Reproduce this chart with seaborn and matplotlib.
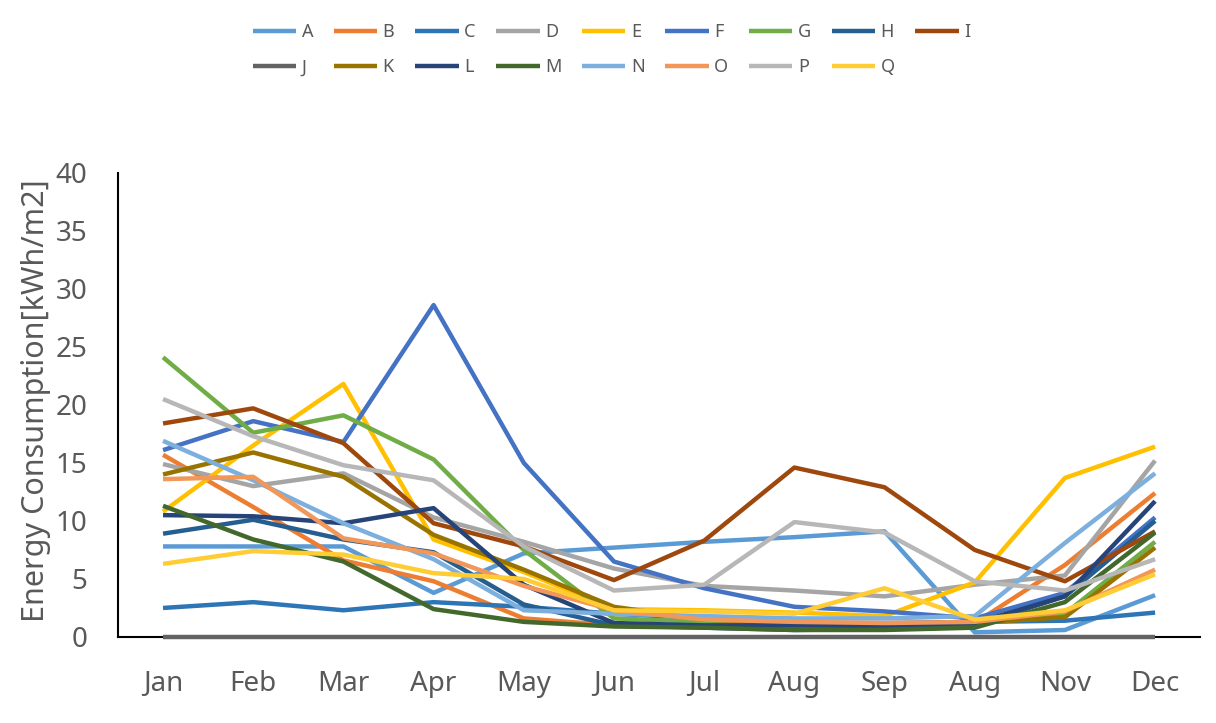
import matplotlib
matplotlib.use("Agg")
import matplotlib.pyplot as plt
import pandas as pd
import seaborn as sns

# Data
months = ['Jan', 'Feb', 'Mar', 'Apr', 'May', 'Jun', 'Jul', 'Aug', 'Sep', 'Aug', 'Nov', 'Dec']
series_names = list('ABCDEFGHIJKLMNOPQ')

A = [7.8, 7.8, 7.8, 3.8, 7.2, 7.7, 8.2, 8.6, 9.1, 0.4, 0.6, 3.6]
B = [15.7, 11.2, 6.6, 4.8, 1.6, 1.0, 1.0, 0.8, 0.9, 1.2, 6.2, 12.4]
C = [2.5, 3.0, 2.3, 3.0, 2.6, 2.0, 1.6, 1.2, 1.2, 1.3, 1.4, 2.1]
D = [14.9, 13.0, 14.1, 10.3, 8.2, 5.9, 4.4, 4.0, 3.5, 4.5, 5.3, 15.2]
E = [10.8, 16.5, 21.8, 8.4, 5.6, 2.4, 2.3, 2.1, 1.8, 4.7, 13.7, 16.4]
F = [16.1, 18.6, 16.8, 28.6, 15.0, 6.5, 4.2, 2.6, 2.2, 1.6, 3.8, 10.3]
G = [24.1, 17.6, 19.1, 15.3, 7.5, 1.6, 1.3, 1.0, 1.0, 1.2, 2.0, 8.2]
H = [8.9, 10.1, 8.4, 7.3, 2.8, 1.0, 0.8, 0.6, 0.7, 1.0, 3.5, 10.0]
I = [18.4, 19.7, 16.7, 9.8, 7.8, 4.9, 8.3, 14.6, 12.9, 7.5, 4.8, 9.1]
J = [0, 0, 0, 0, 0, 0, 0, 0, 0, 0, 0, 0]
K = [14.0, 15.9, 13.8, 8.8, 5.8, 2.6, 1.5, 1.2, 1.1, 1.2, 1.7, 7.7]
L = [10.5, 10.4, 9.8, 11.1, 4.5, 1.2, 1.0, 1.0, 1.0, 1.2, 3.5, 11.7]
M = [11.3, 8.4, 6.5, 2.4, 1.3, 0.9, 0.8, 0.6, 0.6, 0.8, 3.0, 9.0]
N = [16.9, 13.5, 9.8, 6.7, 2.3, 2.0, 1.8, 1.6, 1.6, 1.8, 8.1, 14.1]
O = [13.6, 13.8, 8.5, 7.2, 4.4, 2.3, 1.5, 1.3, 1.2, 1.3, 2.2, 5.8]
P = [20.5, 17.3, 14.8, 13.5, 7.8, 4.0, 4.5, 9.9, 9.0, 4.8, 4.0, 6.7]
Q = [6.3, 7.4, 7.1, 5.5, 5.0, 2.3, 2.2, 2.0, 4.2, 1.5, 2.3, 5.4]

colors = ['#5B9BD5', '#ED7D31', '#2E75B6', '#A5A5A5', '#FFC000', '#4472C4',
          '#70AD47', '#255E91', '#9E480E', '#636363', '#997300', '#264478',
          '#43682B', '#7CAFDD', '#F1975A', '#B7B7B7', '#FFCD33']

values = [A, B, C, D, E, F, G, H, I, J, K, L, M, N, O, P, Q]
rows = []
for name, vals in zip(series_names, values):
    for i, v in enumerate(vals):
        rows.append({'series': name, 'month': i, 'value': v})
df = pd.DataFrame(rows)

sns.set_style('white')
plt.rcParams['font.family'] = ['Noto Sans', 'DejaVu Sans']

fig = plt.figure(figsize=(12.16, 7.23), dpi=100)
ax = fig.add_axes([0.097, 0.119, 0.89, 0.642])

sns.lineplot(data=df, x='month', y='value', hue='series', hue_order=series_names,
             palette=colors, linewidth=3.2, ax=ax)
for line in ax.lines:
    line.set_clip_on(False)
    line.set_zorder(3)
    line.set_solid_capstyle('butt')

ax.set_xlim(-0.5, 11.5)
ax.set_ylim(0, 40)
ax.set_yticks(range(0, 41, 5))
ax.set_xticks(range(12))
ax.set_xticklabels(months)
ax.set_xlabel('')
ax.set_ylabel('Energy Consumption[kWh/m2]', fontsize=22, color='#595959')
ax.yaxis.set_label_coords(-0.062, 0.51)
ax.tick_params(axis='x', length=0, pad=24, labelsize=20, labelcolor='#595959')
ax.tick_params(axis='y', length=0, pad=22, labelsize=20, labelcolor='#595959')

for s in ['top', 'right']:
    ax.spines[s].set_visible(False)
for s in ['left', 'bottom']:
    ax.spines[s].set_color('black')
    ax.spines[s].set_linewidth(1.5)

# legend in row-major order: 9 columns, 2 rows
handles, labels = ax.get_legend_handles_labels()
ax.get_legend().remove()
lookup = dict(zip(labels, handles))
order = ['A', 'J', 'B', 'K', 'C', 'L', 'D', 'M', 'E', 'N', 'F', 'O', 'G', 'P', 'H', 'Q', 'I']
fig.legend([lookup[k] for k in order], order, loc='center',
           bbox_to_anchor=(0.503, 0.931), ncol=9, frameon=False,
           fontsize=13, handlelength=2.4, handletextpad=0.3,
           columnspacing=1.15, labelspacing=0.95, labelcolor='#595959')

fig.savefig('out.png', dpi=100)
